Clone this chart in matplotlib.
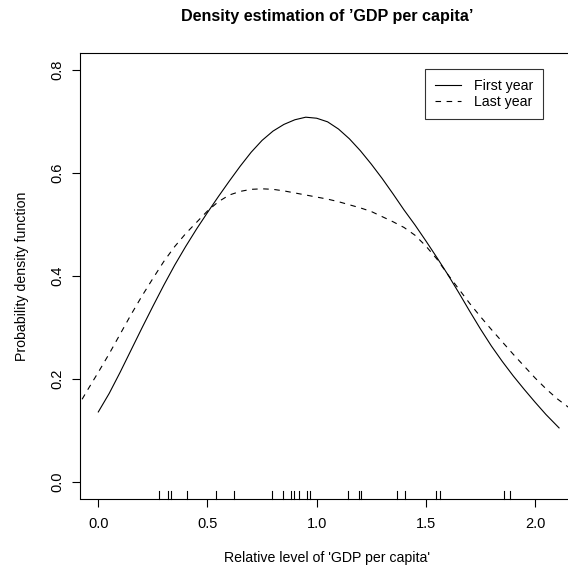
import matplotlib
matplotlib.use("Agg")
import matplotlib.pyplot as plt

plt.rcParams['font.family'] = ['Liberation Sans', 'DejaVu Sans']

# densité première année (trait plein)
x_first = [0.00, 0.05, 0.10, 0.15, 0.20, 0.25, 0.30, 0.35, 0.40, 0.45,
           0.50, 0.55, 0.60, 0.65, 0.70, 0.75, 0.80, 0.85, 0.90, 0.95,
           1.00, 1.05, 1.10, 1.15, 1.20, 1.25, 1.30, 1.35, 1.40, 1.45,
           1.50, 1.55, 1.60, 1.65, 1.70, 1.75, 1.80, 1.85, 1.90, 1.95,
           2.00, 2.05, 2.11]
y_first = [0.136, 0.172, 0.213, 0.256, 0.299, 0.341, 0.382, 0.421, 0.457, 0.491,
           0.523, 0.554, 0.584, 0.613, 0.640, 0.663, 0.681, 0.694, 0.703, 0.708,
           0.706, 0.699, 0.685, 0.666, 0.643, 0.617, 0.589, 0.559, 0.528, 0.499,
           0.468, 0.436, 0.403, 0.368, 0.332, 0.297, 0.264, 0.234, 0.206, 0.180,
           0.155, 0.131, 0.105]

# densité dernière année (pointillés)
x_last = [-0.10, -0.05, 0.00, 0.05, 0.10, 0.15, 0.20, 0.25, 0.30, 0.35,
          0.40, 0.45, 0.50, 0.55, 0.60, 0.65, 0.70, 0.75, 0.80, 0.85,
          0.90, 0.95, 1.00, 1.05, 1.10, 1.15, 1.20, 1.25, 1.30, 1.35,
          1.40, 1.45, 1.50, 1.55, 1.60, 1.65, 1.70, 1.75, 1.80, 1.85,
          1.90, 1.95, 2.00, 2.05, 2.10, 2.15, 2.20]
y_last = [0.142, 0.178, 0.213, 0.249, 0.287, 0.325, 0.361, 0.395, 0.428, 0.457,
          0.482, 0.504, 0.526, 0.544, 0.557, 0.564, 0.568, 0.569, 0.568, 0.565,
          0.561, 0.557, 0.553, 0.549, 0.544, 0.538, 0.532, 0.525, 0.515, 0.505,
          0.494, 0.479, 0.458, 0.433, 0.403, 0.375, 0.347, 0.321, 0.296, 0.272,
          0.248, 0.225, 0.202, 0.181, 0.162, 0.146, 0.131]

# observations (rug)
rug = [0.278, 0.320, 0.331, 0.405, 0.538, 0.621, 0.797, 0.847, 0.881, 0.895,
       0.918, 0.954, 0.968, 1.142, 1.195, 1.201, 1.366, 1.403, 1.546, 1.565,
       1.859, 1.885]

xticks = [0.0, 0.5, 1.0, 1.5, 2.0]
yticks = [0.0, 0.2, 0.4, 0.6, 0.8]

W, H = 568, 572
fig = plt.figure(figsize=(W / 100, H / 100), dpi=100)
# cadre R: la bordure droite sort de l'image
ax = fig.add_axes([80 / W, 1 - 498.5 / H, 495 / W, 445.2 / H])

ax.plot(x_first, y_first, color='black', lw=0.8, label='First year')
ax.plot(x_last, y_last, color='black', lw=0.8, linestyle=(0, (5, 5)), label='Last year')

for r in rug:
    ax.plot([r, r], [0, 0.016], color='black', lw=0.8,
            transform=ax.get_xaxis_transform(), clip_on=False)

ax.set_xlim(-0.0838, 2.183)
ax.set_ylim(-0.032, 0.832)
ax.set_xticks(xticks)
ax.set_xticklabels([f'{v:.1f}' for v in xticks])
ax.set_yticks(yticks)
ax.set_yticklabels([f'{v:.1f}' for v in yticks], rotation=90, va='center')

ax.tick_params(direction='out', length=5.5, width=0.8, labelsize=10.5, pad=8)
ax.tick_params(axis='y', pad=6)
for s in ax.spines.values():
    s.set_linewidth(0.8)

ax.set_title("Density estimation of \u2019GDP per capita\u2019",
             fontsize=11.6, fontweight='bold', pad=23)
ax.set_xlabel("Relative level of 'GDP per capita'", fontsize=10.2, labelpad=14)
ax.set_ylabel('Probability density function', fontsize=10.2, labelpad=15)

leg = ax.legend(loc='upper right', bbox_to_anchor=(542.7 / W, 1 - 69.3 / H),
                bbox_transform=fig.transFigure, borderaxespad=0,
                frameon=True, fancybox=False, fontsize=10.2,
                handlelength=1.85, handletextpad=0.9, labelspacing=0.15,
                borderpad=0.7)
leg.get_frame().set_edgecolor('black')
leg.get_frame().set_linewidth(0.8)

fig.savefig('out.png', dpi=100)
